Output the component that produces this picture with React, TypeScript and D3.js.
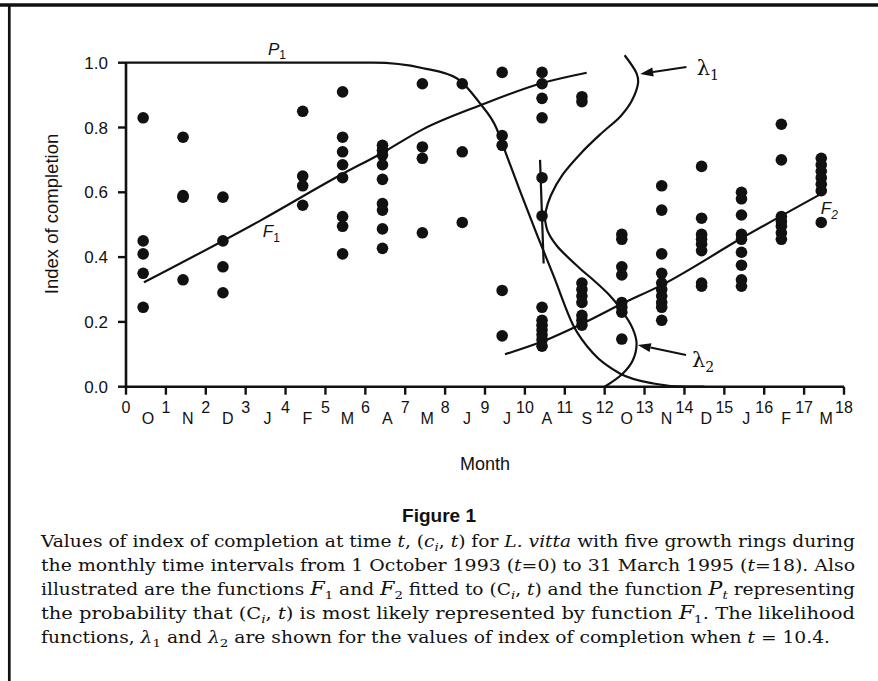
import React from 'react';
import * as d3 from 'd3';

const WIDTH = 878;
const HEIGHT = 681;

// axis ticks
const xTickValues = [0, 1, 2, 3, 4, 5, 6, 7, 8, 9, 10, 11, 12, 13, 14, 15, 16, 17, 18];
const monthLetters = ['O', 'N', 'D', 'J', 'F', 'M', 'A', 'M', 'J', 'J', 'A', 'S', 'O', 'N', 'D', 'J', 'F', 'M'];
const yTickValues = [0, 0.2, 0.4, 0.6, 0.8, 1.0];

// index of completion, one column per monthly sample
const sampleTimes = [0.43, 1.43, 2.43, 4.43, 5.43, 6.43, 7.43, 8.43, 9.43, 10.43, 11.43, 12.43, 13.43, 14.43, 15.43, 16.43, 17.43];
const sampleValues = [
  [0.83, 0.45, 0.41, 0.35, 0.245],
  [0.77, 0.59, 0.585, 0.33],
  [0.585, 0.45, 0.37, 0.29],
  [0.85, 0.65, 0.62, 0.56],
  [0.91, 0.77, 0.725, 0.685, 0.645, 0.525, 0.495, 0.41],
  [0.745, 0.73, 0.715, 0.685, 0.64, 0.565, 0.545, 0.487, 0.427],
  [0.935, 0.74, 0.705, 0.475],
  [0.935, 0.725, 0.507],
  [0.97, 0.775, 0.745, 0.297, 0.157],
  [0.97, 0.935, 0.89, 0.83, 0.645, 0.527, 0.245, 0.205, 0.19, 0.175, 0.16, 0.145, 0.125],
  [0.895, 0.88, 0.32, 0.3, 0.28, 0.26, 0.22, 0.205, 0.19],
  [0.47, 0.455, 0.37, 0.345, 0.26, 0.245, 0.23, 0.147],
  [0.62, 0.545, 0.41, 0.35, 0.32, 0.3, 0.28, 0.26, 0.245, 0.205],
  [0.68, 0.52, 0.47, 0.455, 0.44, 0.42, 0.32, 0.31],
  [0.6, 0.58, 0.53, 0.47, 0.455, 0.415, 0.375, 0.33, 0.31],
  [0.81, 0.7, 0.525, 0.51, 0.495, 0.475, 0.455],
  [0.705, 0.685, 0.665, 0.645, 0.625, 0.605, 0.507],
];

// fitted functions
const f1Times = [0.45, 3.4, 5.4, 6.4, 7.45, 8.87, 10.46, 11.55];
const f1Values = [0.322, 0.515, 0.655, 0.72, 0.795, 0.868, 0.938, 0.969];
const f2Times = [9.5, 10.45, 11.45, 12.42, 13.45, 15.43, 17.38];
const f2Values = [0.1, 0.14, 0.195, 0.255, 0.315, 0.458, 0.592];
const p1Times = [0, 6.2, 7.45, 8.29, 8.87, 9.29, 9.46, 9.87, 10.29, 10.71, 11.21, 11.71, 12.38, 13.22, 14.05, 14.5];
const p1Values = [1, 1, 0.983, 0.952, 0.875, 0.797, 0.741, 0.607, 0.473, 0.345, 0.19, 0.103, 0.041, 0.01, 0, 0];
const lambda1Times = [12.5, 12.8, 12.84, 12.67, 12.4, 11.9, 11.4, 10.95, 10.65, 10.52, 10.5];
const lambda1Values = [1.023, 0.967, 0.94, 0.88, 0.835, 0.78, 0.72, 0.655, 0.59, 0.54, 0.52];
const lambda2Times = [10.5, 10.57, 10.8, 11.38, 11.71, 12.1, 12.4, 12.7, 12.8, 12.7, 12.45, 12.0];
const lambda2Values = [0.52, 0.48, 0.435, 0.365, 0.33, 0.285, 0.24, 0.18, 0.134, 0.08, 0.04, 0.0];
const baseTimes = [10.38, 10.47];
const baseValues = [0.7, 0.38];

const x = d3.scaleLinear().domain([0, 18]).range([126, 844]);
const y = d3.scaleLinear().domain([0, 1]).range([386.7, 62.7]);

const zip = (a: number[], b: number[]): [number, number][] => a.map((v, i) => [v, b[i]]);

const monoLine = d3.line<[number, number]>().x(d => x(d[0])).y(d => y(d[1])).curve(d3.curveMonotoneX);
const smoothLine = d3.line<[number, number]>().x(d => x(d[0])).y(d => y(d[1])).curve(d3.curveCatmullRom.alpha(0.5));
const straight = d3.line<[number, number]>().x(d => x(d[0])).y(d => y(d[1]));

const SANS = '"Liberation Sans", Arial, Helvetica, sans-serif';
const SERIF = '"DejaVu Serif", "Liberation Serif", serif';

function Arrow({ from, to }: { from: [number, number]; to: [number, number] }) {
  const x1 = x(from[0]), y1 = y(from[1]), x2 = x(to[0]), y2 = y(to[1]);
  const a = Math.atan2(y2 - y1, x2 - x1);
  const len = 13, hw = 4.5;
  const bx = x2 - len * Math.cos(a), by = y2 - len * Math.sin(a);
  const px = -Math.sin(a) * hw, py = Math.cos(a) * hw;
  return (
    <g>
      <line x1={x1} y1={y1} x2={bx} y2={by} stroke="#111" strokeWidth={2} />
      <polygon points={`${x2},${y2} ${bx + px},${by + py} ${bx - px},${by - py}`} fill="#111" />
    </g>
  );
}

type Seg = [string, string?];

const captionLines: { segs: Seg[]; len: number }[] = [
  {
    segs: [['Values of index of completion at time '], ['t', 'i'], [', ('], ['c', 'i'], ['i', 'si'], [', '], ['t', 'i'], [') for '], ['L. vitta', 'i'], [' with five growth rings during']],
    len: 814,
  },
  {
    segs: [['the monthly time intervals from 1 October 1993 ('], ['t', 'i'], ['=0) to 31 March 1995 ('], ['t', 'i'], ['=18). Also']],
    len: 814,
  },
  {
    segs: [['illustrated are the functions '], ['F', 'm'], ['1', 's'], [' and '], ['F', 'm'], ['2', 's'], [' fitted to (C'], ['i', 'si'], [', '], ['t', 'i'], [') and the function '], ['P', 'm'], ['t', 'si'], [' representing']],
    len: 814,
  },
  {
    segs: [['the probability that (C'], ['i', 'si'], [', '], ['t', 'i'], [') is most likely represented by function '], ['F', 'm'], ['1', 's'], ['. The likelihood']],
    len: 814,
  },
  {
    segs: [['functions, '], ['λ', 'i'], ['1', 's'], [' and '], ['λ', 'i'], ['2', 's'], [' are shown for the values of index of completion when '], ['t', 'i'], [' = 10.4.']],
    len: 789,
  },
];

function CaptionLine({ segs, len, yPos }: { segs: Seg[]; len: number; yPos: number }) {
  let shifted = false;
  return (
    <text x={41} y={yPos} fontFamily={SERIF} fontSize={16} fill="#111" textLength={len} lengthAdjust="spacingAndGlyphs">
      {segs.map(([t, f], i) => {
        const sub = f === 's' || f === 'si';
        let dy = 0;
        if (sub && !shifted) { dy = 4; shifted = true; }
        else if (!sub && shifted) { dy = -4; shifted = false; }
        return (
          <tspan
            key={i}
            dy={dy || undefined}
            fontStyle={f === 'i' || f === 'si' || f === 'm' ? 'italic' : undefined}
            fontSize={sub ? 11.5 : f === 'm' ? 18 : undefined}
          >
            {t}
          </tspan>
        );
      })}
    </text>
  );
}

export default function App() {
  return (
    <div style={{ position: 'absolute', left: 0, top: 0 }}>
      <svg width={WIDTH} height={HEIGHT} viewBox={`0 0 ${WIDTH} ${HEIGHT}`} style={{ display: 'block', background: '#fff' }}>
        {/* frame */}
        <line x1={0} y1={5} x2={WIDTH} y2={5} stroke="#111" strokeWidth={3.3} />
        <line x1={9.3} y1={5} x2={9.3} y2={HEIGHT} stroke="#111" strokeWidth={2.7} />

        {/* axes */}
        <line x1={x(0)} y1={y(0)} x2={x(18)} y2={y(0)} stroke="#111" strokeWidth={2.6} />
        <line x1={x(0)} y1={y(0) + 1.3} x2={x(0)} y2={y(1)} stroke="#111" strokeWidth={2.6} />
        {yTickValues.map(v => (
          <g key={v}>
            <line x1={x(0) - 8} x2={x(0)} y1={y(v)} y2={y(v)} stroke="#111" strokeWidth={2.4} />
            <text x={108} y={y(v) + 6} textAnchor="end" fontFamily={SANS} fontSize={17} fill="#111">
              {v.toFixed(1)}
            </text>
          </g>
        ))}
        {xTickValues.map(v => (
          <g key={v}>
            <line x1={x(v)} x2={x(v)} y1={y(0)} y2={y(0) + 8} stroke="#111" strokeWidth={2.4} />
            <text x={x(v)} y={413} textAnchor="middle" fontFamily={SANS} fontSize={16} fill="#111">
              {v}
            </text>
          </g>
        ))}
        {monthLetters.map((m, i) => (
          <text key={i} x={x(xTickValues[i] + 0.55)} y={423.5} textAnchor="middle" fontFamily={SANS} fontSize={16} fill="#111">
            {m}
          </text>
        ))}

        <text x={(x(0) + x(18)) / 2} y={470} textAnchor="middle" fontFamily={SANS} fontSize={18} fill="#111">
          Month
        </text>
        <text
          transform={`translate(58,214) rotate(-90)`}
          textAnchor="middle"
          fontFamily={SANS}
          fontSize={18.5}
          fill="#111"
        >
          Index of completion
        </text>

        {/* curves */}
        <path d={monoLine(zip(p1Times, p1Values)) ?? ''} fill="none" stroke="#111" strokeWidth={2.2} />
        <path d={monoLine(zip(f1Times, f1Values)) ?? ''} fill="none" stroke="#111" strokeWidth={2.2} />
        <path d={monoLine(zip(f2Times, f2Values)) ?? ''} fill="none" stroke="#111" strokeWidth={2.2} />
        <path d={smoothLine(zip(lambda1Times, lambda1Values)) ?? ''} fill="none" stroke="#111" strokeWidth={2.2} />
        <path d={smoothLine(zip(lambda2Times, lambda2Values)) ?? ''} fill="none" stroke="#111" strokeWidth={2.2} />
        <path d={straight(zip(baseTimes, baseValues)) ?? ''} fill="none" stroke="#111" strokeWidth={2.2} />

        {/* points */}
        {sampleTimes.map((t, i) =>
          sampleValues[i].map((v, j) => <circle key={`${i}-${j}`} cx={x(t)} cy={y(v)} r={5.8} fill="#111" />)
        )}

        {/* labels */}
        <text x={x(3.56)} y={y(1.024)} fontFamily={SANS} fontSize={17} fill="#111">
          <tspan fontStyle="italic">P</tspan>
          <tspan fontSize={12} dy={4}>1</tspan>
        </text>
        <text x={x(3.43)} y={y(0.462)} fontFamily={SANS} fontSize={17} fill="#111">
          <tspan fontStyle="italic">F</tspan>
          <tspan fontSize={12} dy={5}>1</tspan>
        </text>
        <text x={x(17.42)} y={y(0.533)} fontFamily={SANS} fontSize={17} fill="#111">
          <tspan fontStyle="italic">F</tspan>
          <tspan fontSize={12} fontStyle="italic" dy={5}>2</tspan>
        </text>

        <Arrow from={[14.05, 0.987]} to={[12.89, 0.965]} />
        <text x={x(14.31)} y={y(0.962)} fontFamily={SERIF} fontSize={21} fill="#111">
          <tspan>λ</tspan>
          <tspan fontSize={14} dy={5}>1</tspan>
        </text>
        <Arrow from={[14.04, 0.098]} to={[12.83, 0.129]} />
        <text x={x(14.19)} y={y(0.06)} fontFamily={SERIF} fontSize={21} fill="#111">
          <tspan>λ</tspan>
          <tspan fontSize={14} dy={5}>2</tspan>
        </text>

        {/* caption */}
        <text x={WIDTH / 2} y={522} textAnchor="middle" fontFamily={SANS} fontWeight="bold" fontSize={19} fill="#111">
          Figure 1
        </text>
        {captionLines.map((l, i) => (
          <CaptionLine key={i} segs={l.segs} len={l.len} yPos={547 + i * 24} />
        ))}
      </svg>
    </div>
  );
}
